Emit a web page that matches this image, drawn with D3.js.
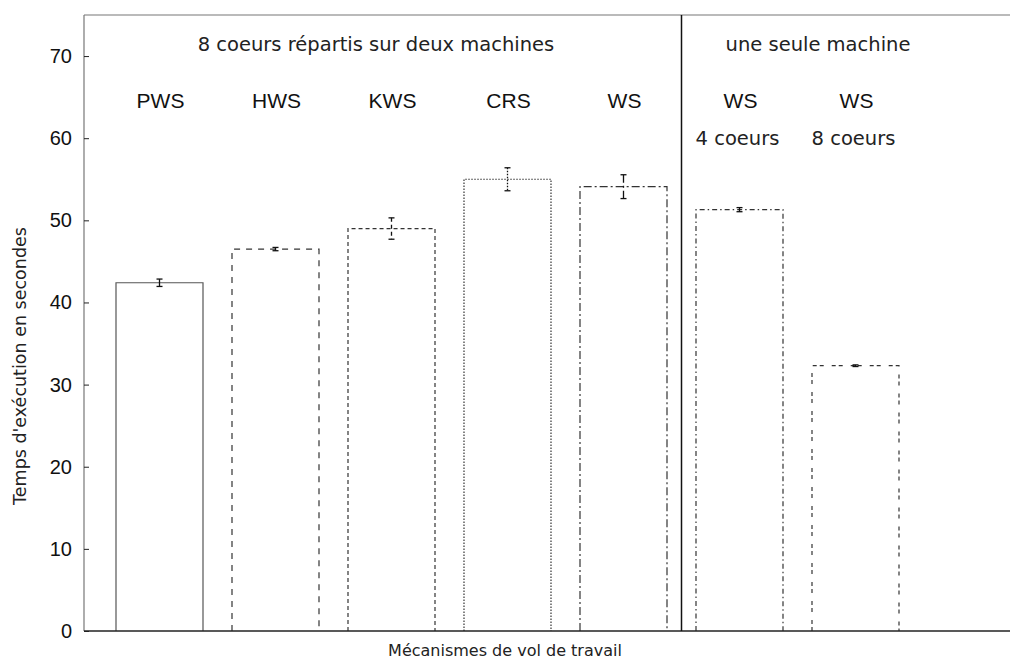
<!DOCTYPE html>
<html>
<head>
<meta charset="utf-8">
<script src="https://cdn.jsdelivr.net/npm/d3@7/dist/d3.min.js"></script>
<style>
  html, body { margin: 0; padding: 0; background: #fff; }
  svg { display: block; }
</style>
</head>
<body>
<svg id="chart" width="1010" height="661"></svg>
<script>
// Execution time of each work-stealing mechanism (seconds)
const mechanisms = ["PWS", "HWS", "KWS", "CRS", "WS", "WS", "WS"];
const subLabels  = ["", "", "", "", "", "4 coeurs", "8 coeurs"];
const meanTimes  = [42.4, 46.5, 49.0, 55.0, 54.1, 51.3, 32.3];
const errors     = [0.45, 0.2, 1.3, 1.4, 1.45, 0.25, 0.1];
const yTicks     = [0, 10, 20, 30, 40, 50, 60, 70];
const groupTitles = ["8 coeurs répartis sur deux machines", "une seule machine"];

// stroke pattern for each bar outline
const dashes = ["none", "6,6", "4,3", "1.5,1.5", "8,3,2,3", "5,3,1.5,3", "4,3,4,8"];

const svg = d3.select("#chart");
const plotLeft = 84, plotTop = 15, plotBottom = 631, plotRight = 1010;

const x = d3.scaleBand()
  .domain(d3.range(mechanisms.length))
  .range([101.5, 913.5])
  .paddingInner(0.25)
  .paddingOuter(0.125);

const y = d3.scaleLinear().domain([0, 75]).range([plotBottom, plotTop]);

// frame
svg.append("line").attr("x1", plotLeft).attr("x2", plotRight).attr("y1", plotTop).attr("y2", plotTop)
  .attr("stroke", "#777").attr("stroke-width", 1.2);
svg.append("line").attr("x1", plotLeft).attr("x2", plotLeft).attr("y1", plotTop).attr("y2", plotBottom)
  .attr("stroke", "#777").attr("stroke-width", 1.2);

// y axis with inward ticks
const yAxis = d3.axisLeft(y).tickValues(yTicks).tickSizeInner(-5).tickSizeOuter(0).tickPadding(12);
const gy = svg.append("g").attr("transform", `translate(${plotLeft},0)`).call(yAxis);
gy.select(".domain").remove();
gy.selectAll(".tick line").attr("stroke", "#222");
gy.selectAll(".tick text")
  .attr("font-family", "'Liberation Sans', Arial, sans-serif")
  .attr("font-size", 20).attr("fill", "#111");

// bars
const bars = svg.append("g");
mechanisms.forEach((m, i) => {
  const x0 = x(i), w = x.bandwidth(), yt = y(meanTimes[i]);
  bars.append("path")
    .attr("d", `M${x0},${plotBottom}V${yt}H${x0 + w}V${plotBottom}`)
    .attr("fill", "none")
    .attr("stroke", i === 0 ? "#555" : "#333")
    .attr("stroke-width", 1.2)
    .attr("stroke-dasharray", dashes[i]);

  // error bar
  const cx = x0 + w / 2;
  const y1 = y(meanTimes[i] + errors[i]), y2 = y(meanTimes[i] - errors[i]);
  bars.append("line").attr("x1", cx).attr("x2", cx).attr("y1", y1).attr("y2", y2)
    .attr("stroke", "#111").attr("stroke-width", 1.3)
    .attr("stroke-dasharray", errors[i] > 1 ? dashes[i] : "none");
  [y1, y2].forEach(yy => {
    bars.append("line").attr("x1", cx - 3).attr("x2", cx + 3).attr("y1", yy).attr("y2", yy)
      .attr("stroke", "#111").attr("stroke-width", 1.3);
  });
});

// x axis line
svg.append("line").attr("x1", plotLeft).attr("x2", plotRight).attr("y1", plotBottom).attr("y2", plotBottom)
  .attr("stroke", "#222").attr("stroke-width", 1.5);

// separator between the two setups
const sepX = (x(4) + x.bandwidth() + x(5)) / 2;
svg.append("line").attr("x1", sepX).attr("x2", sepX).attr("y1", plotTop).attr("y2", plotBottom)
  .attr("stroke", "#111").attr("stroke-width", 1.5);

// mechanism labels
const labels = svg.append("g")
  .attr("font-family", "'Liberation Sans', Arial, sans-serif")
  .attr("font-size", 21).attr("fill", "#111").attr("text-anchor", "middle");
mechanisms.forEach((m, i) => {
  labels.append("text").attr("x", x(i) + x.bandwidth() / 2 + 1).attr("y", 108).text(m);
});
const subs = svg.append("g")
  .attr("font-family", "'DejaVu Sans', sans-serif")
  .attr("font-size", 19.5).attr("fill", "#222").attr("text-anchor", "middle");
subLabels.forEach((s, i) => {
  if (s) subs.append("text").attr("x", x(i) + x.bandwidth() / 2 - 2).attr("y", 145).text(s);
});

// group titles
subs.append("text").attr("x", 376).attr("y", 51).text(groupTitles[0]);
subs.append("text").attr("x", 818).attr("y", 51).text(groupTitles[1]);

// axis titles
svg.append("text")
  .attr("x", 505).attr("y", 656)
  .attr("font-family", "'DejaVu Sans', sans-serif").attr("font-size", 16)
  .attr("fill", "#222").attr("text-anchor", "middle")
  .text("Mécanismes de vol de travail");
svg.append("text")
  .attr("transform", "translate(26,366) rotate(-90)")
  .attr("font-family", "'DejaVu Sans', sans-serif").attr("font-size", 17.5)
  .attr("fill", "#222").attr("text-anchor", "middle")
  .text("Temps d'exécution en secondes");
</script>
</body>
</html>
